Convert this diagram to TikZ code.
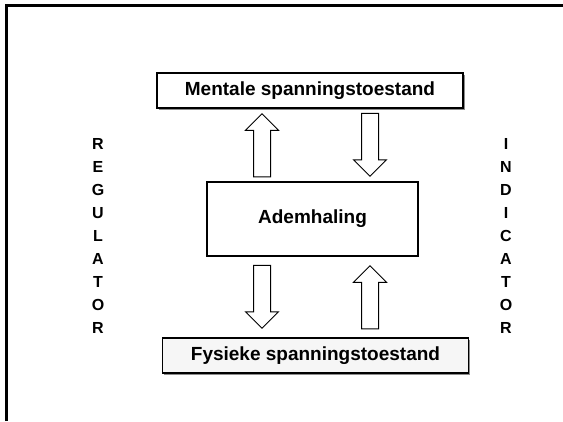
\documentclass[tikz,border=0pt]{standalone}
\usepackage{fontspec}
\setmainfont{Liberation Sans}
\usepackage{tikz}
\usetikzlibrary{positioning, calc, shapes.arrows, shadows}
\definecolor{ink}{HTML}{000000}
\definecolor{softgrey}{HTML}{F6F6F6}
\definecolor{shadegrey}{HTML}{8C8C8C}
\newcommand{\shaftgap}{\phantom{\rule{16pt}{16pt}}}
\tikzset{
  statebox/.style={draw=ink, line width=1.1pt, inner sep=0pt,
    minimum width=306pt, minimum height=35pt,
    font=\bfseries\fontsize{19}{22}\selectfont,
    drop shadow={shadow xshift=1.6pt, shadow yshift=-1.6pt, fill=shadegrey, opacity=1}},
  corebox/.style={draw=ink, line width=1.1pt, fill=white, inner sep=0pt,
    minimum width=211pt, minimum height=74pt,
    font=\bfseries\fontsize{19}{22}\selectfont},
  flowarrow/.style={single arrow, draw=ink, line width=1pt, fill=white,
    inner sep=0pt, minimum height=63pt, minimum width=0pt,
    single arrow head extend=8pt, single arrow tip angle=90},
  sideword/.style={align=center, inner sep=0pt,
    font=\bfseries\fontsize{16}{23}\selectfont}
}
\begin{document}
\begin{tikzpicture}[x=1pt,y=-1pt]
\useasboundingbox (0,0) rectangle (563,421);
\draw[line width=3pt, color=ink] (6.5,421) -- (6.5,5.5) -- (563,5.5);
\node[statebox, fill=white] (mental) at (310,90.5) {Mentale spanningstoestand};
\node[corebox] (adem) at (312.5,219) {Ademhaling};
\node[statebox, fill=softgrey] (fysiek) at (315.5,355.5) {Fysieke spanningstoestand};
\node[flowarrow, shape border rotate=90] (upper-up) at (262,149.5) {\shaftgap};
\node[flowarrow, shape border rotate=270] (upper-down) at (370,140.5) {\shaftgap};
\node[flowarrow, shape border rotate=270] (lower-down) at (262,292.5) {\shaftgap};
\node[flowarrow, shape border rotate=90] (lower-up) at (370,301.5) {\shaftgap};
\node[sideword] (regulator) at (98,236) {R\\E\\G\\U\\L\\A\\T\\O\\R};
\node[sideword] (indicator) at (506,236) {I\\N\\D\\I\\C\\A\\T\\O\\R};
\end{tikzpicture}
\end{document}
